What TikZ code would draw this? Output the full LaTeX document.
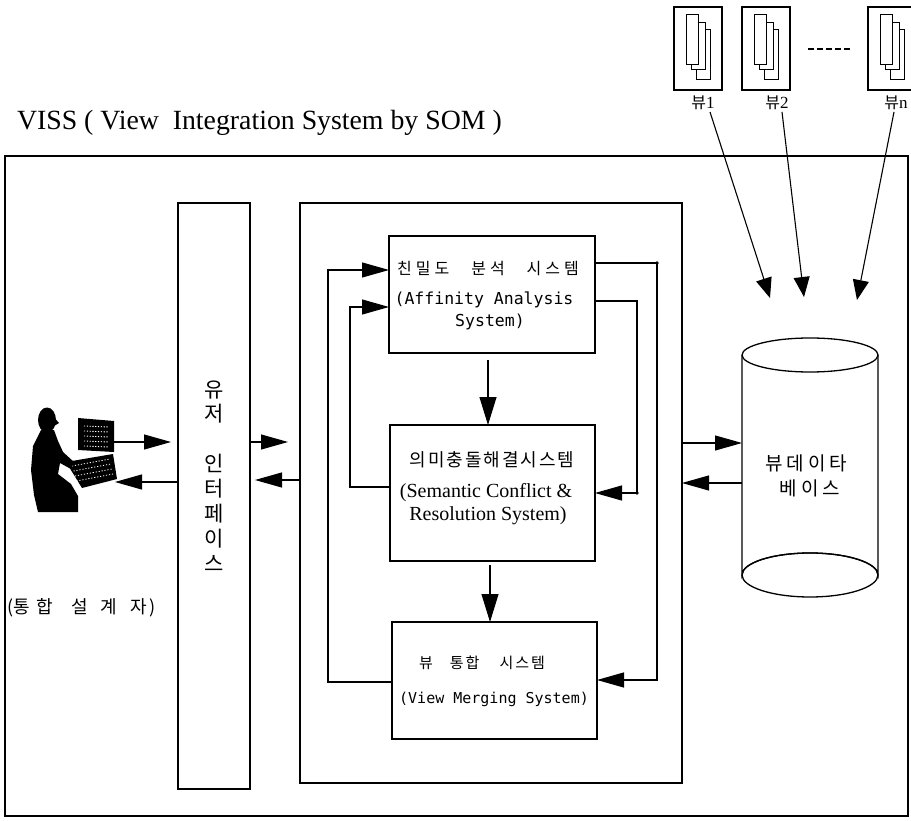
\documentclass[tikz,border=0pt]{standalone}
\usepackage{fontspec}
\setmainfont{Liberation Serif}
\newfontfamily\krf{Noto Sans CJK KR}
\newfontfamily\monof{DejaVu Sans Mono}
\usetikzlibrary{arrows.meta}
\newcommand\ksz[1]{\krf\fontsize{#1}{#1}\selectfont}
\newcommand\msz[1]{\monof\fontsize{#1}{#1}\selectfont}
\newcommand\rsz[1]{\rmfamily\fontsize{#1}{#1}\selectfont}

\begin{document}
\begin{tikzpicture}[x=1pt,y=-1pt,
  frame/.style={draw, line width=1.4pt, inner sep=0pt, outer sep=0pt},
  wire/.style={line width=1.1pt},
  tipL/.style={-{Triangle[length=27pt,width=15pt]}},
  tipD/.style={-{Triangle[length=28pt,width=17pt]}},
  tipM/.style={-{Triangle[length=20pt,width=16pt]}},
  txt/.style={inner sep=0pt, outer sep=0pt},
]
\useasboundingbox (0,0) rectangle (911,821);
\clip (0,0) rectangle (911,821);

% ---------- title ----------
\node[txt, anchor=base west, font=\rsz{27.8}] (title) at (17,130)
  {VISS ( View\ \ Integration System by SOM )};

% ---------- frames ----------
\node[frame, line width=1.3pt, minimum width=903pt, minimum height=660pt] (outer) at (456.5,486) {};
\node[frame, minimum width=72pt, minimum height=586pt] (iface) at (214,496) {};
\node[frame, minimum width=382pt, minimum height=580pt] (mid) at (491,493) {};
\node[frame, minimum width=206pt, minimum height=117pt] (aff) at (492,294.5) {};
\node[frame, minimum width=205pt, minimum height=136pt] (sem) at (492.5,493) {};
\node[frame, minimum width=205pt, minimum height=117pt] (merge) at (494.5,680.5) {};

% ---------- box texts ----------
\node[txt, font=\ksz{16}] (affk) at (488,269)
  {친\hspace{4pt}밀\hspace{4pt}도\hspace{22pt}분\hspace{4pt}석\hspace{22pt}시\hspace{4pt}스\hspace{4pt}템};
\node[txt, font=\msz{16.5}] (affe) at (484,300) {(Affinity Analysis};
\node[txt, font=\msz{16.5}] (affe2) at (490,322) {System)};

\node[txt, font=\ksz{18}] (semk) at (492,460)
  {의\hspace{2pt}미\hspace{2pt}충\hspace{2pt}돌\hspace{2pt}해\hspace{2pt}결\hspace{2pt}시\hspace{2pt}스\hspace{2pt}템};
\node[txt, font=\rsz{20}] (seme) at (486,493) {(Semantic Conflict \&};
\node[txt, font=\rsz{20}] (seme2) at (488,516) {Resolution System)};

\node[txt, font=\ksz{15}] (mergek) at (482,663)
  {뷰\hspace{17pt}통\hspace{2pt}합\hspace{20pt}시\hspace{2pt}스\hspace{2pt}템};
\node[txt, font=\msz{15}] (mergee) at (494,699) {(View Merging System)};

% ---------- user interface column ----------
\foreach \ch/\yy in {유/390,저/414,인/463,터/489,페/514,이/539,스/563}
  \node[txt, font=\ksz{21}] at (214,\yy) {\ch};

% ---------- view database cylinder ----------
\node[minimum width=136pt, minimum height=240pt, inner sep=0pt, outer sep=0pt] (db) at (810,465) {};
\draw[line width=1.3pt, fill=white] (742,355) -- (742,575) arc[start angle=180, end angle=360, x radius=68, y radius=22]
  -- (878,355);
\draw[line width=1.3pt] (810,575) ellipse [x radius=68, y radius=22];
\draw[line width=1.3pt, fill=white] (810,355) ellipse [x radius=68, y radius=17];
\node[txt, font=\ksz{19}] (dbk1) at (806,463) {뷰\hspace{4pt}데\hspace{4pt}이\hspace{4pt}타};
\node[txt, font=\ksz{19}] (dbk2) at (810,488) {베\hspace{4pt}이\hspace{4pt}스};

% ---------- view documents ----------
\foreach \bx/\nm in {674/v1,742/v2,868/vn}{
  \node[frame, line width=1.2pt, minimum width=48pt, minimum height=83pt, anchor=north west] (\nm) at (\bx,7) {};
  \draw[line width=1pt, fill=white] (\bx+22,30) rectangle (\bx+36,80);
  \draw[line width=1pt, fill=white] (\bx+17,23) rectangle (\bx+31,70);
  \draw[line width=1pt, fill=white] (\bx+12,15) rectangle (\bx+24,65);
}
\draw[line width=2pt, dash pattern=on 6pt off 3pt] (808,49) -- (852,49);
\node[txt] (v1l) at (703,103) {\ksz{16}뷰\rsz{17}1};
\node[txt] (v2l) at (777,103) {\ksz{16}뷰\rsz{17}2};
\node[txt] (vnl) at (896,103) {\ksz{16}뷰\rsz{17}n};
\coordinate (t1) at (770,298);
\coordinate (t2) at (804,297);
\coordinate (t3) at (857,300);
\draw[wire, tipM] ([xshift=7pt,yshift=-2pt]v1l.south) -- (t1);
\draw[wire, tipM] ([xshift=5pt,yshift=-2pt]v2l.south) -- (t2);
\draw[wire, tipM] ([xshift=-2pt,yshift=-2pt]vnl.south) -- (t3);

% ---------- designer at the workstation ----------
\coordinate (pOut) at (113,442);
\coordinate (pIn) at (115,482);
% monitor
\fill (78,418) -- (114,421) -- (114,452) -- (78,450) -- cycle;
\foreach \yy in {426,431,436,441,446}
  \draw[white, line width=0.9pt, dash pattern=on 1.2pt off 1.6pt] (84,\yy) -- (109,\yy+1);
% keyboard and base unit
\fill (66,462) -- (113,454) -- (117,479) -- (82,488) -- cycle;
\foreach \k in {0,5,10,15}
  \draw[white, line width=0.8pt, dash pattern=on 1.2pt off 1.8pt] (72+\k*0.3,466+\k) -- (110+\k*0.2,459+\k);
% person
\fill (47,420) ellipse [x radius=9, y radius=12.5];
\fill (53,416) -- (59,423) -- (54,426) -- cycle;
\fill (41,430) -- (54,430) -- (58,441) -- (63,452) -- (74,462) -- (71,469)
  -- (60,463) -- (58,474) -- (71,484) -- (78,496) -- (78,512) -- (38,512)
  -- (34,495) -- (31,470) -- (33,446) -- cycle;
\node[txt, anchor=west, font=\ksz{18}] (designer) at (7,608)
  {(통\hspace{7pt}합\hspace{18pt}설\hspace{13pt}계\hspace{13pt}자\hspace{3pt})};

% ---------- connectors ----------
\draw[wire, tipL, shorten >=7pt] (pOut) -- (iface.west |- pOut);
\draw[wire, tipL] (iface.west |- pIn) -- (pIn);
\draw[wire, tipL, shorten >=12pt] (iface.east |- 0,442) -- (mid.west |- 0,442);
\draw[wire, tipL, shorten >=5pt] (mid.west |- 0,480) -- (iface.east |- 0,480);
\draw[wire, tipL] (mid.east |- 0,443) -- (db.west |- 0,443);
\draw[wire, tipL] (db.west |- 0,483) -- (mid.east |- 0,483);

\draw[wire, tipL] (merge.west |- 0,682) -| (328,270) -- (aff.west |- 0,270);
\draw[wire, tipL] (sem.west |- 0,487) -| (350,307) -- (aff.west |- 0,307);
\draw[wire, tipL] (aff.east |- 0,263) -| (657,680) -- (merge.east |- 0,680);
\draw[wire, tipL] (aff.east |- 0,301) -| (637,493) -- (sem.east |- 0,493);
\fill (657,263) circle (1.8);
\fill (637,493) circle (1.8);
\draw[wire, tipD] (488,360) -- (sem.north -| 488,0);
\draw[wire, tipD] (490,565) -- (merge.north -| 490,0);
\end{tikzpicture}
\end{document}
